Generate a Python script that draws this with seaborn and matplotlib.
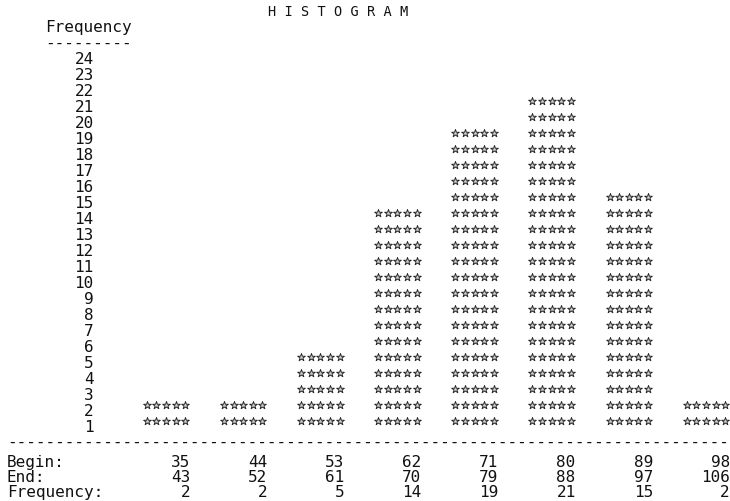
import numpy as np
import pandas as pd
import matplotlib
matplotlib.use("Agg")
import matplotlib.pyplot as plt
import seaborn as sns

# Histogram data
bin_begin = [35, 44, 53, 62, 71, 80, 89, 98]
bin_end = [43, 52, 61, 70, 79, 88, 97, 106]
frequency = [2, 2, 5, 14, 19, 21, 15, 2]
freq_levels = list(range(1, 25))
title = "H I S T O G R A M"
row_labels = ["Begin:", "End:", "Frequency:"]

sns.set_theme(style="white")
plt.rcParams["font.family"] = ["DejaVu Sans Mono"]

# Character-grid layout: one x unit = one monospace column, one y unit = one text line
CH_W = 9.64          # column width in px
LEFT = 7             # left margin in px
ROW1_Y = 426.3       # px from top of the centre of level 1
LINE_H = 16          # px per text line
W, H = 730, 502
LABEL_W = 11         # width of the left label field
FIELD_W = 8          # width of each bin column
BAR_W = 5            # stars per row in a bin

fig = plt.figure(figsize=(W / 100, H / 100), dpi=100)
ax = fig.add_axes([0, 0, 1, 1])
ax.set_xlim(-LEFT / CH_W, (W - LEFT) / CH_W)
ax.set_ylim(1 + (ROW1_Y - H) / LINE_H, 1 + ROW1_Y / LINE_H)
ax.axis("off")

FS = 11.5
BASE = 0.364  # baseline offset below a line's centre, in lines
TXT = "#111111"


def line_y(py):
    return 1 + (ROW1_Y - py) / LINE_H


# Star marks: BAR_W stars per frequency level in each bin column
recs = []
for i, f in enumerate(frequency):
    right = LABEL_W + FIELD_W * (i + 1)
    for lev in range(1, f + 1):
        for j in range(BAR_W):
            recs.append({"col": right - BAR_W + j + 0.5, "level": lev + 0.27})
stars = pd.DataFrame(recs)
sns.scatterplot(data=stars, x="col", y="level", marker="*", s=34,
                color="#d0d0d0", edgecolor="#222222", linewidth=0.65,
                ax=ax, legend=False, zorder=3)

# Title
ax.text(34.3, line_y(16), title, fontsize=9.8, ha="center", va="baseline",
        color=TXT)

# Y axis header
ax.text(4, 26 - BASE, "Frequency", fontsize=FS, ha="left", va="baseline", color=TXT)
ax.text(4, 25 - BASE, "-" * len("Frequency"), fontsize=FS, ha="left",
        va="baseline", color=TXT)

# Frequency levels, right-aligned at column 9
for lev in freq_levels:
    s = str(lev)
    ax.text(9 - len(s), lev - BASE, s, fontsize=FS, ha="left", va="baseline",
            color=TXT)

# Separator line
n_cols = LABEL_W + FIELD_W * len(frequency)
ax.text(0, line_y(446.5), "-" * n_cols, fontsize=FS, ha="left",
        va="baseline", color=TXT)

# Bin table
table_rows = [bin_begin, bin_end, frequency]
row_py = [461, 476, 491]
for label, vals, py in zip(row_labels, table_rows, row_py):
    yb = line_y(py) - BASE
    ax.text(0, yb, label, fontsize=FS, ha="left", va="baseline", color=TXT)
    for i, v in enumerate(vals):
        s = str(v)
        right = LABEL_W + FIELD_W * (i + 1)
        ax.text(right - len(s), yb, s, fontsize=FS, ha="left", va="baseline",
                color=TXT)

fig.savefig("out.png", dpi=100, facecolor="white")
